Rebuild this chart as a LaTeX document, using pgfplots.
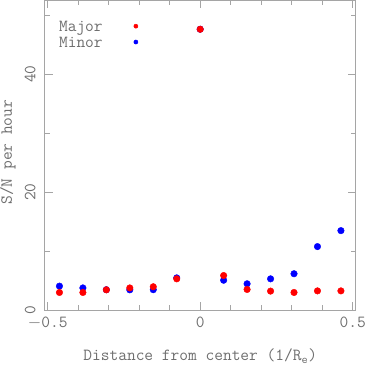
\documentclass[border=0pt]{standalone}
\usepackage{pgfplots}
\pgfplotsset{compat=1.18}
\definecolor{txtgray}{RGB}{110,110,110}
\definecolor{axgray}{RGB}{165,165,165}
\newcommand{\chfont}{\fontsize{17}{19}\selectfont\ttfamily}
\begin{document}
\begin{tikzpicture}
\begin{axis}[
  scale only axis,
  width=312pt, height=311pt,
  xmin=-0.51, xmax=0.51,
  ymin=0, ymax=52.5,
  xtick={-0.5,0,0.5},
  xticklabels={{$-$0.5},{0},{0.5}},
  minor xtick={-0.4,-0.3,-0.2,-0.1,0.1,0.2,0.3,0.4},
  ytick={0,20,40},
  yticklabels={{0},{20},{40}},
  minor ytick={10,30,50},
  tick align=inside,
  major tick length=8pt,
  minor tick length=5pt,
  axis line style={axgray, line width=0.6pt},
  every tick/.style={axgray, line width=0.6pt},
  tick label style={txtgray, font=\chfont},
  yticklabel style={xshift=-9pt, rotate=90, anchor=south, inner sep=0pt},
  xticklabel style={anchor=north, inner sep=0pt, yshift=-6pt},
  label style={txtgray, font=\chfont},
  xlabel={Distance from center (1/R$_{\mathtt{e}}$)},
  ylabel={S/N per hour},
  xlabel style={at={(axis description cs:0.5,0)}, anchor=south, inner xsep=0pt, inner ysep=3pt, yshift=-56pt},
  ylabel style={at={(axis description cs:-0.093,0.51)}, anchor=south, inner sep=0pt, rotate=0},
  legend style={draw=none, fill=none, at={(axis cs:-0.47,49.3)}, anchor=north west,
    font=\chfont, text=txtgray, inner sep=0pt, row sep=0pt},
  legend plot pos=right,
  legend cell align=left,
  reverse legend,
  legend image code/.code={\path[draw=none,fill=none] (0,0) -- (1.1cm,0); \fill[#1] (1.1cm,0.04cm) circle (2.1pt);},
]
\addplot[only marks, mark=*, mark size=3.3pt, blue, draw=blue, fill=blue] coordinates {
(-0.4615,4.1) (-0.3846,3.8) (-0.3077,3.5) (-0.2308,3.48) (-0.1538,3.5) (-0.0769,5.5)
(0,47.6) (0.0769,5.1) (0.1538,4.5) (0.2308,5.34) (0.3077,6.2) (0.3846,10.8) (0.4615,13.5)
};
\addlegendentry{Minor}
\addplot[only marks, mark=*, mark size=3.3pt, red, draw=red, fill=red] coordinates {
(-0.4615,3.03) (-0.3846,3.03) (-0.3077,3.48) (-0.2308,3.8) (-0.1538,4.0) (-0.0769,5.34)
(0,47.6) (0.0769,5.9) (0.1538,3.54) (0.2308,3.26) (0.3077,3.03) (0.3846,3.3) (0.4615,3.3)
};
\addlegendentry{Major}
\end{axis}
\end{tikzpicture}
\end{document}
